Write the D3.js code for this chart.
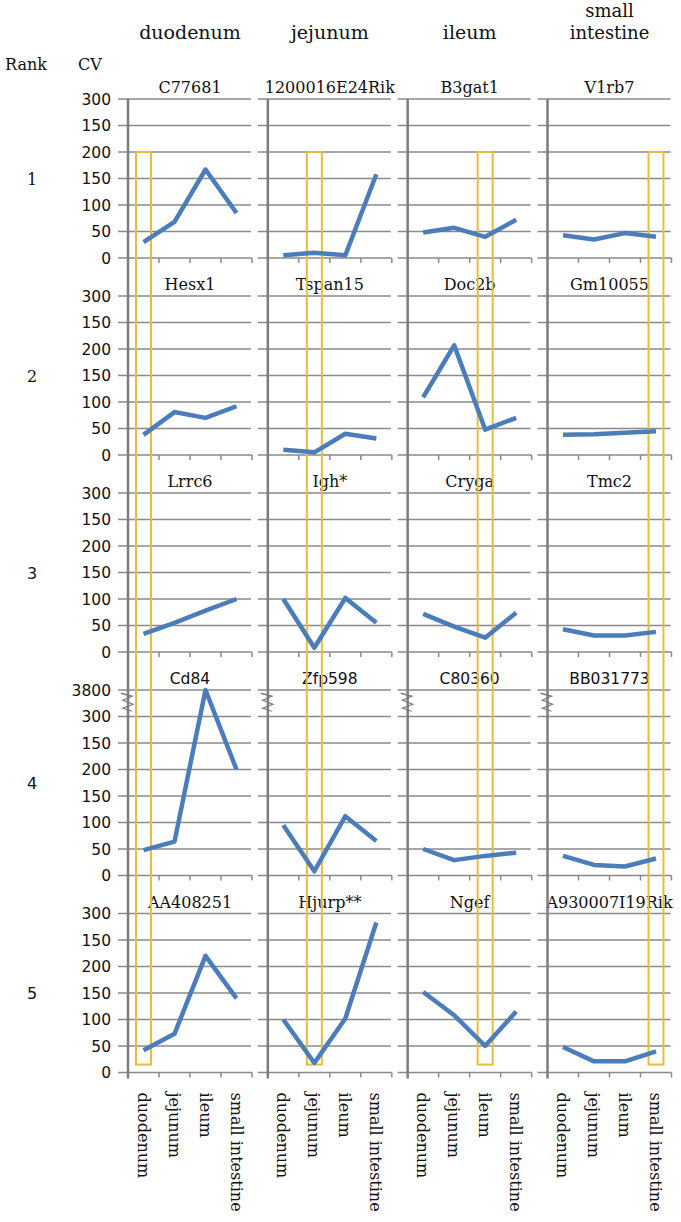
<!DOCTYPE html>
<html>
<head>
<meta charset="utf-8">
<script src="https://cdn.jsdelivr.net/npm/d3@7"></script>
<style>
  html, body { margin: 0; padding: 0; background: #fff; }
  svg text { font-family: "DejaVu Serif", "Liberation Serif", serif; fill: #111; }
  svg text.sans { font-family: "DejaVu Sans", "Liberation Sans", sans-serif; }
</style>
</head>
<body>
<div id="chart"></div>
<script>
// --- Data ---
const sites = ['duodenum', 'jejunum', 'ileum', 'small intestine'];
const ranks = ['1', '2', '3', '4', '5'];
const tickValues = [0, 50, 100, 150, 200, 250, 300];
const tickLabels = ['0', '50', '100', '150', '200', '150', '300']; // as printed in the figure
const breakValue = 3800;
const breakRow = 3; // rank 4 has a broken axis

const duodenumGenes = ['C77681', 'Hesx1', 'Lrrc6', 'Cd84', 'AA408251'];
const duodenumCV = [[30, 68, 167, 85], [38, 81, 70, 92], [34, 55, 78, 100], [48, 64, 3800, 200], [42, 73, 220, 140]];

const jejunumGenes = ['1200016E24Rik', 'Tspan15', 'Igh*', 'Zfp598', 'Hjurp**'];
const jejunumCV = [[5, 10, 5, 158], [10, 5, 40, 31], [100, 8, 102, 55], [95, 8, 112, 65], [100, 18, 102, 283]];

const ileumGenes = ['B3gat1', 'Doc2b', 'Cryga', 'C80360', 'Ngef'];
const ileumCV = [[48, 57, 40, 72], [109, 207, 48, 70], [72, 48, 27, 74], [50, 29, 37, 43], [152, 108, 50, 115]];

const smallIntGenes = ['V1rb7', 'Gm10055', 'Tmc2', 'BB031773', 'A930007I19Rik'];
const smallIntCV = [[43, 35, 47, 40], [38, 39, 42, 45], [43, 31, 31, 38], [37, 20, 17, 32], [48, 21, 21, 40]];

const columns = [
    { site: sites[0], genes: duodenumGenes, cv: duodenumCV },
    { site: sites[1], genes: jejunumGenes, cv: jejunumCV },
    { site: sites[2], genes: ileumGenes, cv: ileumCV },
    { site: sites[3], genes: smallIntGenes, cv: smallIntCV }
];

// --- Layout ---
const width = 681, height = 1222;
const step = 26.5;          // px per 50 CV
const rowPitch = 197;
const firstZero = 258;
const panelW = 124;

const colX = d3.scaleLinear().domain([0, 3]).range([128, 547.5]);
const zeroY = r => firstZero + rowPitch * r + (r >= breakRow ? step : 0);

const x = d3.scaleBand().domain(sites).range([0, panelW]).paddingInner(0).paddingOuter(0);

function yScale(r) {
    const z = zeroY(r);
    if (r === breakRow) {
        return d3.scaleLinear().domain([0, 300, breakValue]).range([z, z - 6 * step, z - 7 * step]);
    }
    return d3.scaleLinear().domain([0, 300]).range([z, z - 6 * step]);
}

const svg = d3.select('#chart').append('svg')
    .attr('width', width)
    .attr('height', height);

const gridColor = '#8a8a8a';
const axisColor = '#7c7c7c';
const lineColor = '#4a7dba';
const boxColor = '#e6bd3c';

// Header
svg.append('text').attr('x', 5).attr('y', 70).attr('font-size', 16).text('Rank');
svg.append('text').attr('x', 78).attr('y', 70).attr('font-size', 16).text('CV');

columns.forEach((c, i) => {
    const cx = colX(i) + panelW / 2;
    if (c.site === 'small intestine') {
        svg.append('text').attr('x', cx).attr('y', 17)
            .attr('text-anchor', 'middle').attr('font-size', 18).text('small');
        svg.append('text').attr('x', cx).attr('y', 39)
            .attr('text-anchor', 'middle').attr('font-size', 18).text('intestine');
    } else {
        svg.append('text').attr('x', cx).attr('y', 39)
            .attr('text-anchor', 'middle').attr('font-size', 19).text(c.site);
    }
});

const lastRow = ranks.length - 1;
const axisTop = yScale(0).range()[1];
const axisBottom = zeroY(lastRow) + 6;

ranks.forEach((rank, r) => {
    const y = yScale(r);
    const ticks = r === breakRow ? tickValues.concat([breakValue]) : tickValues;
    const labels = r === breakRow ? tickLabels.concat([String(breakValue)]) : tickLabels;
    const top = y(ticks[ticks.length - 1]);
    const bottom = y(0);
    const sansRow = r >= 2;

    // rank label
    svg.append('text')
        .attr('class', sansRow ? 'sans' : null)
        .attr('x', 32)
        .attr('y', (top + bottom) / 2 + 6)
        .attr('text-anchor', 'middle')
        .attr('font-size', 16)
        .text(rank);

    // y tick labels (first column only)
    svg.append('g').selectAll('text')
        .data(ticks)
        .enter().append('text')
        .attr('class', 'sans')
        .attr('x', colX(0) - 17)
        .attr('y', d => y(d))
        .attr('dy', '0.36em')
        .attr('text-anchor', 'end')
        .attr('font-size', 15.5)
        .text((d, k) => labels[k]);

    columns.forEach((c, i) => {
        const g = svg.append('g').attr('transform', `translate(${colX(i)},0)`);

        // gridlines
        g.selectAll('.grid')
            .data(ticks.filter(v => v !== 0))
            .enter().append('line')
            .attr('x1', -10).attr('x2', panelW - 1)
            .attr('y1', d => y(d)).attr('y2', d => y(d))
            .attr('stroke', gridColor)
            .attr('stroke-width', 1.5);

        // x axis (zero line) with ticks at band edges
        const xAxis = d3.axisBottom(x).tickSize(0).tickFormat('');
        const ax = g.append('g').attr('transform', `translate(0,${bottom})`).call(xAxis);
        ax.select('.domain').attr('d', `M-10,0H${panelW}`).attr('stroke', gridColor).attr('stroke-width', 1.5);
        ax.selectAll('.edge')
            .data(sites)
            .enter().append('line')
            .attr('x1', d => x(d) + x.bandwidth()).attr('x2', d => x(d) + x.bandwidth())
            .attr('y1', 0).attr('y2', 5)
            .attr('stroke', gridColor)
            .attr('stroke-width', 1.5);

        // gene title (rank 4 titles are set in a sans face in the figure)
        g.append('text')
            .attr('class', r === breakRow ? 'sans' : null)
            .attr('x', panelW / 2)
            .attr('y', top - 6)
            .attr('text-anchor', 'middle')
            .attr('font-size', r === breakRow ? 15.5 : 16)
            .text(c.genes[r]);
    });
});

// vertical axes, continuous through all ranks
columns.forEach((c, i) => {
    svg.append('line')
        .attr('x1', colX(i)).attr('x2', colX(i))
        .attr('y1', axisTop).attr('y2', axisBottom)
        .attr('stroke', axisColor)
        .attr('stroke-width', 2.5);

    // break mark on the rank 4 axis
    const yb = yScale(breakRow);
    const ym = (yb(300) + yb(breakValue)) / 2 - 2;
    const xa = colX(i);
    svg.append('path')
        .attr('d', `M${xa - 7},${ym - 8}L${xa + 4},${ym - 5}L${xa - 5},${ym - 1}L${xa + 5},${ym + 3}L${xa - 5},${ym + 7}L${xa + 4},${ym + 10}`)
        .attr('fill', 'none')
        .attr('stroke', axisColor)
        .attr('stroke-width', 1.3);
});

// highlight boxes: the column's own tissue across all ranks
columns.forEach((c, i) => {
    const bx = colX(i) + x(c.site) + x.bandwidth() / 2;
    const yTop = yScale(0)(200);
    const yBot = yScale(lastRow)(15);
    svg.append('rect')
        .attr('x', bx - 7.5)
        .attr('y', yTop)
        .attr('width', 15)
        .attr('height', yBot - yTop)
        .attr('fill', 'none')
        .attr('stroke', boxColor)
        .attr('stroke-width', 2);
});

// CV profiles
ranks.forEach((rank, r) => {
    const y = yScale(r);
    columns.forEach((c, i) => {
        const line = d3.line()
            .x((d, k) => x(sites[k]) + x.bandwidth() / 2)
            .y(d => y(d));
        svg.append('path')
            .attr('transform', `translate(${colX(i)},0)`)
            .datum(c.cv[r])
            .attr('d', line)
            .attr('fill', 'none')
            .attr('stroke', lineColor)
            .attr('stroke-width', 4.5)
            .attr('stroke-linejoin', 'round');
    });
});

// rotated category labels under the last rank
columns.forEach((c, i) => {
    svg.append('g')
        .attr('transform', `translate(${colX(i)},${zeroY(lastRow) + 20})`)
        .selectAll('text')
        .data(sites)
        .enter().append('text')
        .attr('transform', d => `translate(${x(d) + x.bandwidth() / 2 - 6},0) rotate(90)`)
        .attr('font-size', 16)
        .text(d => d);
});
</script>
</body>
</html>
